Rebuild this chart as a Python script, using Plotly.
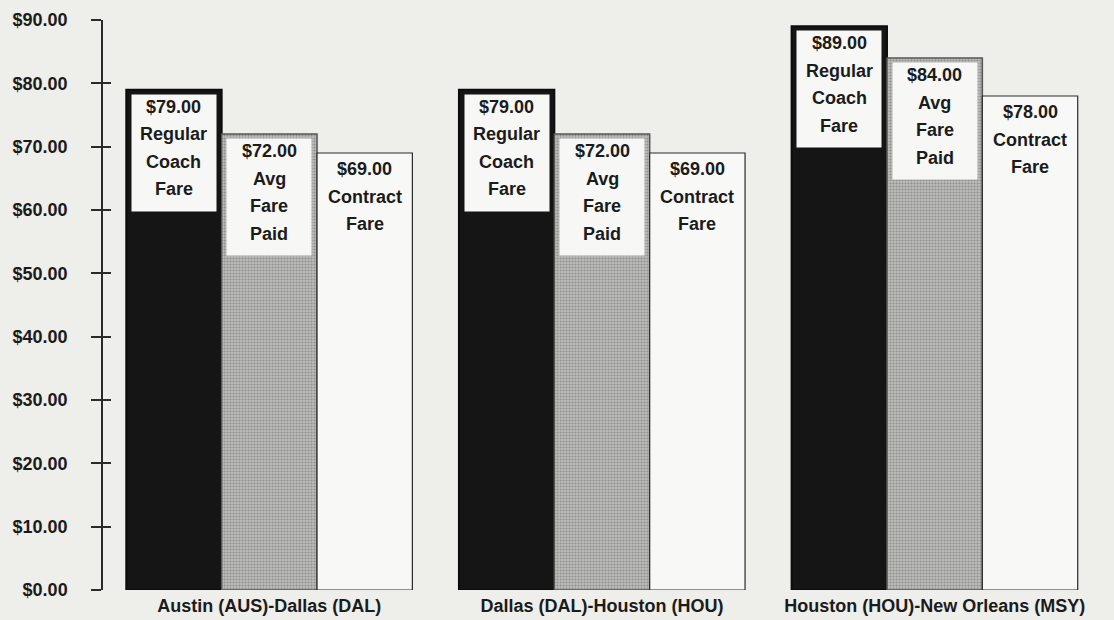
"""
Fare comparison by route — grouped bars with stacked in-bar labels.
"""

import plotly.graph_objects as go

ROUTES = [
    "Austin (AUS)-Dallas (DAL)",
    "Dallas (DAL)-Houston (HOU)",
    "Houston (HOU)-New Orleans (MSY)",
]
REGULAR_FARE = [79.00, 79.00, 89.00]
AVG_FARE = [72.00, 72.00, 84.00]
CONTRACT_FARE = [69.00, 69.00, 78.00]
SERIES_LABELS = [
    ["Regular", "Coach", "Fare"],
    ["Avg", "Fare", "Paid"],
    ["Contract", "Fare"],
]
Y_TICKS = [0, 10, 20, 30, 40, 50, 60, 70, 80, 90]
Y_TICK_TEXT = [f"${v:.2f}" for v in Y_TICKS]

FONT = "Liberation Sans, Arial, sans-serif"
INK = "#1b1b1b"
PAPER = "#eeeeea"
BARGAP = 0.14
LINE_STEP = 27.5

series = [REGULAR_FARE, AVG_FARE, CONTRACT_FARE]
bar_w = (1 - BARGAP) / len(series)
offsets = [(k - (len(series) - 1) / 2) * bar_w for k in range(len(series))]

fig = go.Figure()

fig.add_trace(go.Bar(
    x=ROUTES, y=REGULAR_FARE, name="Regular Coach Fare",
    marker=dict(color="#151515", line=dict(color="#0c0c0c", width=2)),
))
fig.add_trace(go.Bar(
    x=ROUTES, y=AVG_FARE, name="Avg Fare Paid",
    marker=dict(
        color="#aeaeac",
        line=dict(color="#555553", width=1.5),
        pattern=dict(shape=".", fgcolor="#8e8e8c", bgcolor="#bdbdbb",
                     size=3, solidity=0.4, fillmode="replace"),
    ),
))
fig.add_trace(go.Bar(
    x=ROUTES, y=CONTRACT_FARE, name="Contract Fare",
    marker=dict(color="#f8f8f6", line=dict(color="#2a2a2a", width=1.2)),
))

# invisible trace to anchor the overlaid tick axis
fig.add_trace(go.Scatter(x=[ROUTES[0]], y=[0], yaxis="y2", mode="markers",
                         marker=dict(opacity=0), showlegend=False, hoverinfo="skip"))

annotations = []
for k, vals in enumerate(series):
    lines = SERIES_LABELS[k]
    for i, v in enumerate(vals):
        xpos = i + offsets[k]
        texts = [f"${v:.2f}"] + lines
        if k < 2:
            annotations.append(dict(
                x=xpos, y=v, xref="x", yref="y", text=" ",
                showarrow=False, yanchor="top", yshift=-4,
                width=84, height=int(LINE_STEP * len(texts) + 6),
                bgcolor="#f7f7f5", borderpad=0,
            ))
        first = 17 if k < 2 else 16
        for j, t in enumerate(texts):
            annotations.append(dict(
                x=xpos, y=v, xref="x", yref="y", text=f"<b>{t}</b>",
                showarrow=False, yanchor="middle",
                yshift=-(first + LINE_STEP * j),
                font=dict(family=FONT, size=18, color=INK),
            ))

fig.update_layout(
    width=1114, height=620,
    margin=dict(l=103, r=13, t=20, b=30, autoexpand=False),
    paper_bgcolor=PAPER, plot_bgcolor=PAPER,
    barmode="group", bargap=BARGAP, bargroupgap=0,
    showlegend=False,
    annotations=annotations,
    xaxis=dict(
        range=[-0.5, 2.5], showgrid=False, zeroline=False, showline=False,
        ticks="", ticklabelstandoff=3, automargin=False,
        tickfont=dict(family=FONT, size=18, color=INK, weight="bold"),
    ),
    yaxis=dict(
        range=[0, 90], tickmode="array", tickvals=Y_TICKS, ticktext=Y_TICK_TEXT,
        showgrid=False, zeroline=False, automargin=False,
        showline=True, linecolor="#2b2b2b", linewidth=1.5,
        ticks="outside", ticklen=10, tickwidth=1.5, tickcolor="#2b2b2b",
        ticklabelstandoff=20,
        tickfont=dict(family=FONT, size=18, color=INK, weight="bold"),
    ),
    yaxis2=dict(
        range=[0, 90], tickvals=Y_TICKS, overlaying="y", side="left",
        showgrid=False, zeroline=False, showline=False, showticklabels=False,
        ticks="inside", ticklen=8, tickwidth=1.5, tickcolor="#2b2b2b",
        automargin=False,
    ),
)

fig.write_html(
    "out.html",
    config={"displayModeBar": False},
    post_script=(
        "document.body.style.margin='0';"
        f"document.body.style.background='{PAPER}';"
    ),
)
